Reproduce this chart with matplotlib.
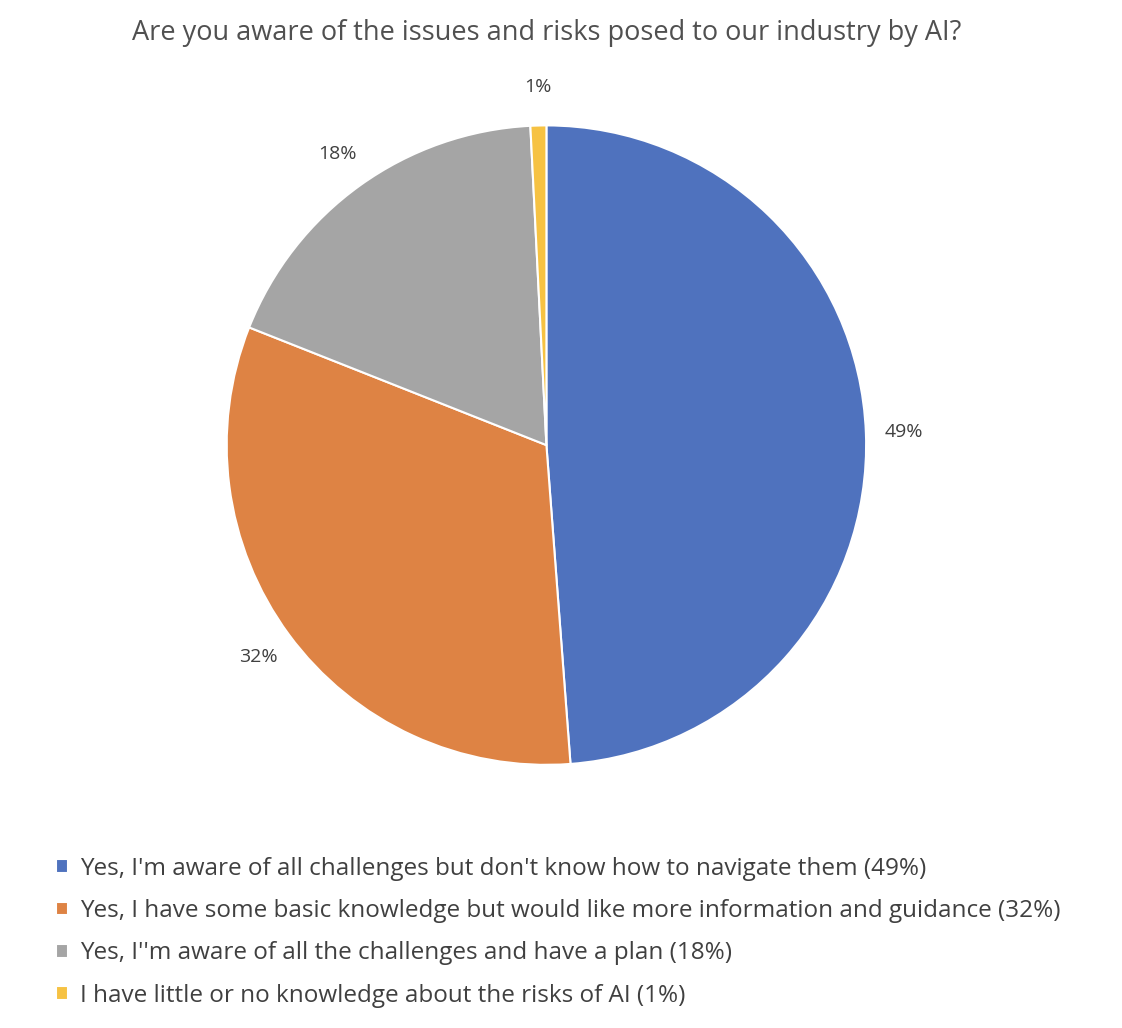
import matplotlib.pyplot as plt

labels = ["Yes, I'm aware of all challenges but don't know how to navigate them (49%)",
          "Yes, I have some basic knowledge but would like more information and guidance (32%)",
          "Yes, I''m aware of all the challenges and have a plan (18%)",
          "I have little or no knowledge about the risks of AI (1%)"]
values = [48.8, 32.2, 18.2, 0.8]
colors = ["#4F72BE", "#DE8344", "#A5A5A5", "#F6C243"]
title = "Are you aware of the issues and risks posed to our industry by AI?"

plt.rcParams['font.family'] = ['Open Sans', 'DejaVu Sans']
fig = plt.figure(figsize=(11.22, 10.28), dpi=100)
ax = fig.add_axes([0.487-0.285, 0.567-0.311, 0.570, 0.622])
wedges, texts, autotexts = ax.pie(values, colors=colors, startangle=90, counterclock=False,
    autopct=lambda p: f"{p:.0f}%", pctdistance=1.12,
    wedgeprops=dict(edgecolor='white', linewidth=1.5, clip_on=False),
    textprops=dict(fontsize=14, color='#404040'))
ax.set_xlim(-1, 1)
ax.set_ylim(-1, 1)
ax.set_aspect('equal')
fig.text(0.487, 1-33/1028, title, ha='center', va='center', fontsize=19.5, color='#505050')
fig.legend(wedges, labels, loc='upper left', bbox_to_anchor=(0.03, 1-835/1028), frameon=False,
           handlelength=0.5, handleheight=0.5, handletextpad=0.5, labelspacing=0.75,
           fontsize=17.5, labelcolor='#404040')
fig.savefig('out.png', dpi=100)
